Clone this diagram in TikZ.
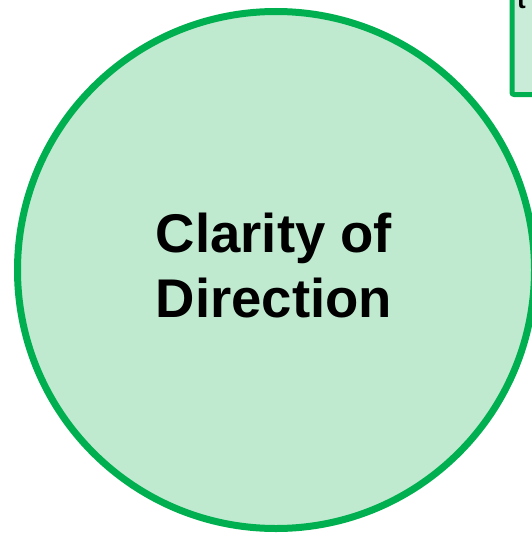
\documentclass[tikz,border=0pt]{standalone}
\usepackage{fontspec}
\setmainfont{Liberation Sans}
\definecolor{ogreen}{HTML}{00B050}
\definecolor{cfill}{HTML}{C0EAD0}
\definecolor{bfill}{HTML}{C8ECD8}
\begin{document}
\begin{tikzpicture}[x=1pt,y=-1pt,
  bigcircle/.style={circle,draw=ogreen,fill=cfill,line width=7pt,minimum size=517pt,inner sep=0pt},
  partbox/.style={rectangle,draw=ogreen,fill=bfill,line width=5pt,rounded corners=2pt,inner sep=0pt,anchor=south west},
  bigtext/.style={font=\bfseries\fontsize{54.5}{65}\selectfont,align=center,inner sep=0pt,text=black}
]
\useasboundingbox (0,0) rectangle (531,535);
\node[partbox,minimum width=50pt,minimum height=120pt] (box) at (509.5,97) {};
\node[anchor=base west,font=\bfseries\fontsize{26}{30}\selectfont,inner sep=0pt] (boxtext) at (517,8.5) {t};
\node[bigcircle] (circ) at (276,270) {};
\node[bigtext] (label) at (274,266) {Clarity of\\Direction};
\end{tikzpicture}
\end{document}
